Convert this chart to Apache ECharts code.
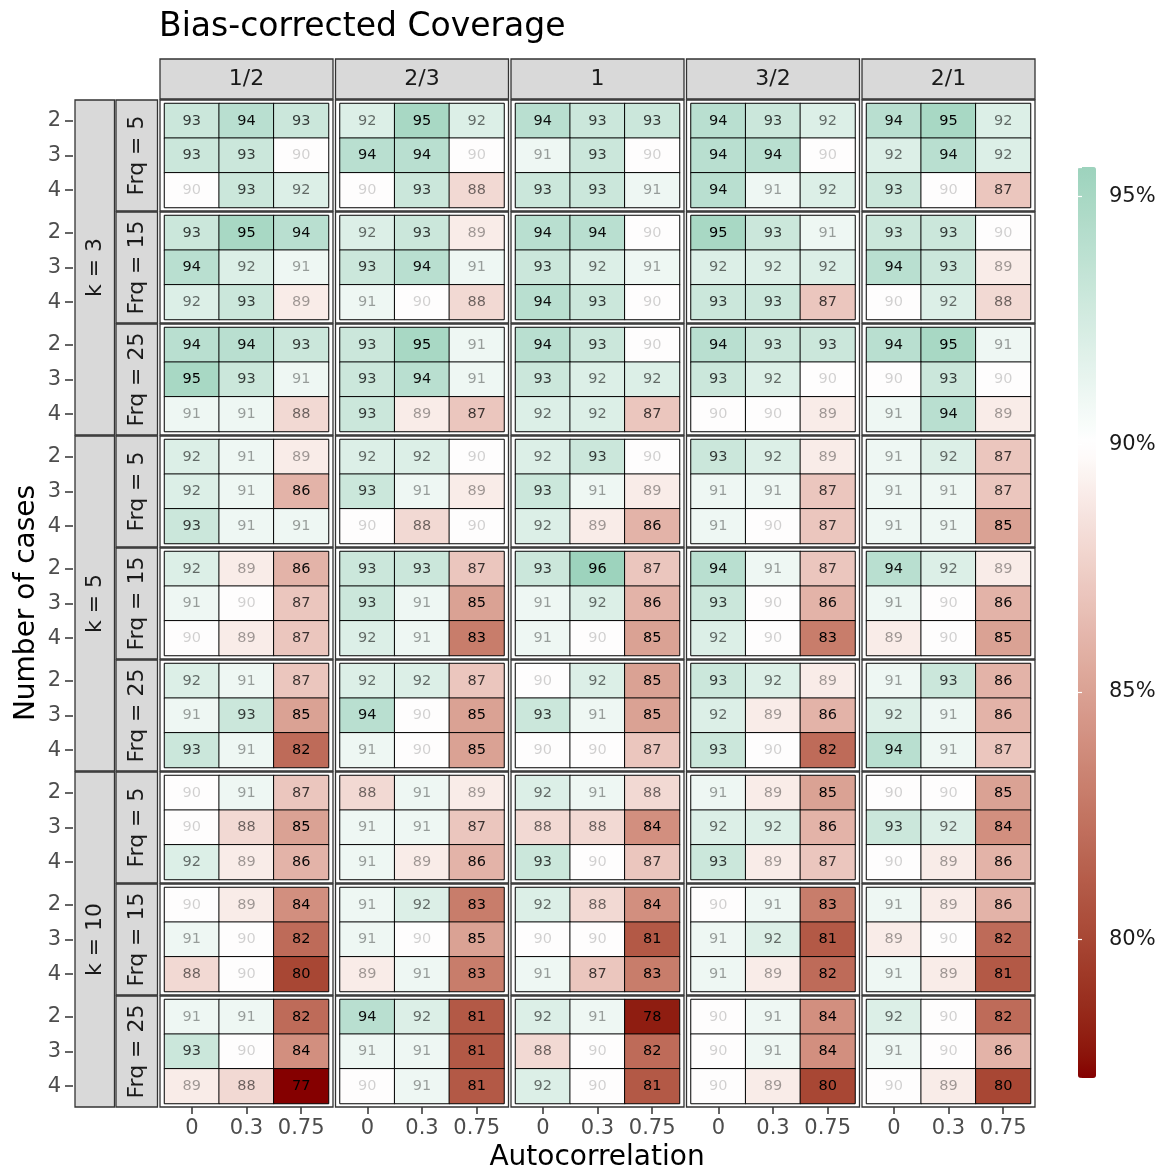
<!DOCTYPE html>
<html>
<head>
<meta charset="utf-8">
<script src="https://cdn.jsdelivr.net/npm/echarts@6/dist/echarts.min.js"></script>
<style>
  html, body { margin: 0; padding: 0; background: #fff; }
  #chart { width: 1162px; height: 1171px; }
</style>
</head>
<body>
<div id="chart"></div>
<script>
const ratios = ['1/2', '2/3', '1', '3/2', '2/1'];
const kValues = [3, 5, 10];
const frqValues = [5, 15, 25];
const nCases = ['2', '3', '4'];
const autocorr = ['0', '0.3', '0.75'];
const colorLimits = [77.2, 95.6];
const colorbarTicks = [80, 85, 90, 95];

// coverage (%) per k: 3 rows (n = 2,3,4) for each Frq (5, 15, 25),
// each row = 5 ratio panels x 3 autocorrelations
const coverageK3 = [
  [93,94,93, 92,95,92, 94,93,93, 94,93,92, 94,95,92],
  [93,93,90, 94,94,90, 91,93,90, 94,94,90, 92,94,92],
  [90,93,92, 90,93,88, 93,93,91, 94,91,92, 93,90,87],
  [93,95,94, 92,93,89, 94,94,90, 95,93,91, 93,93,90],
  [94,92,91, 93,94,91, 93,92,91, 92,92,92, 94,93,89],
  [92,93,89, 91,90,88, 94,93,90, 93,93,87, 90,92,88],
  [94,94,93, 93,95,91, 94,93,90, 94,93,93, 94,95,91],
  [95,93,91, 93,94,91, 93,92,92, 93,92,90, 90,93,90],
  [91,91,88, 93,89,87, 92,92,87, 90,90,89, 91,94,89]
];
const coverageK5 = [
  [92,91,89, 92,92,90, 92,93,90, 93,92,89, 91,92,87],
  [92,91,86, 93,91,89, 93,91,89, 91,91,87, 91,91,87],
  [93,91,91, 90,88,90, 92,89,86, 91,90,87, 91,91,85],
  [92,89,86, 93,93,87, 93,96,87, 94,91,87, 94,92,89],
  [91,90,87, 93,91,85, 91,92,86, 93,90,86, 91,90,86],
  [90,89,87, 92,91,83, 91,90,85, 92,90,83, 89,90,85],
  [92,91,87, 92,92,87, 90,92,85, 93,92,89, 91,93,86],
  [91,93,85, 94,90,85, 93,91,85, 92,89,86, 92,91,86],
  [93,91,82, 91,90,85, 90,90,87, 93,90,82, 94,91,87]
];
const coverageK10 = [
  [90,91,87, 88,91,89, 92,91,88, 91,89,85, 90,90,85],
  [90,88,85, 91,91,87, 88,88,84, 92,92,86, 93,92,84],
  [92,89,86, 91,89,86, 93,90,87, 93,89,87, 90,89,86],
  [90,89,84, 91,92,83, 92,88,84, 90,91,83, 91,89,86],
  [91,90,82, 91,90,85, 90,90,81, 91,92,81, 89,90,82],
  [88,90,80, 89,91,83, 91,87,83, 91,89,82, 91,89,81],
  [91,91,82, 94,92,81, 92,91,78, 90,91,84, 92,90,82],
  [93,90,84, 91,91,81, 88,90,82, 90,91,84, 91,90,86],
  [89,88,77, 90,91,81, 92,90,81, 90,89,80, 90,89,80]
];
const coverage = [coverageK3, coverageK5, coverageK10];

const FONT = 'DejaVu Sans';

// gradient2 style colours (Lab interpolation around midpoint 90)
function hexToLab(hex) {
  const c = [1, 3, 5].map(i => parseInt(hex.slice(i, i + 2), 16) / 255)
    .map(u => u <= 0.04045 ? u / 12.92 : Math.pow((u + 0.055) / 1.055, 2.4));
  const f = t => t > 0.008856 ? Math.cbrt(t) : 7.787 * t + 16 / 116;
  const x = f((0.4124 * c[0] + 0.3576 * c[1] + 0.1805 * c[2]) / 0.95047);
  const y = f(0.2126 * c[0] + 0.7152 * c[1] + 0.0722 * c[2]);
  const z = f((0.0193 * c[0] + 0.1192 * c[1] + 0.9505 * c[2]) / 1.08883);
  return [116 * y - 16, 500 * (x - y), 200 * (y - z)];
}
function labToHex(lab) {
  const fy = (lab[0] + 16) / 116, fx = fy + lab[1] / 500, fz = fy - lab[2] / 200;
  const inv = t => t > 0.206893 ? t * t * t : (t - 16 / 116) / 7.787;
  const x = inv(fx) * 0.95047, y = inv(fy), z = inv(fz) * 1.08883;
  const lin = [
    3.2406 * x - 1.5372 * y - 0.4986 * z,
    -0.9689 * x + 1.8758 * y + 0.0415 * z,
    0.0557 * x - 0.2040 * y + 1.0570 * z
  ];
  return '#' + lin.map(u => {
    u = Math.min(1, Math.max(0, u));
    u = u <= 0.0031308 ? 12.92 * u : 1.055 * Math.pow(u, 1 / 2.4) - 0.055;
    return Math.round(u * 255).toString(16).padStart(2, '0');
  }).join('');
}
const lowLab = hexToLab('#850000');
const highLab = [55, -50, 12];
const midVal = 90;
const spread = Math.max(midVal - colorLimits[0], colorLimits[1] - midVal);
function colorAt(v) {
  const t = Math.min(1, Math.abs(v - midVal) / spread);
  const end = v < midVal ? lowLab : highLab;
  return labToHex([100 + (end[0] - 100) * t, end[1] * t, end[2] * t]);
}
const rampColors = [];
for (let i = 0; i <= 60; i++) {
  rampColors.push(colorAt(colorLimits[0] + (colorLimits[1] - colorLimits[0]) * i / 60));
}

// layout
const panelX0 = 160, panelStepX = 175.5, panelW = 173;
const panelY0 = 100, panelStepY = 112, panelH = 111;
const insetX = 4.5, insetY = 3.5;

const grids = [], xAxes = [], yAxes = [], series = [], graphics = [];
let gi = 0;
for (let k = 0; k < kValues.length; k++) {
  for (let f = 0; f < frqValues.length; f++) {
    const row = k * 3 + f;
    const top = panelY0 + row * panelStepY;
    for (let r = 0; r < ratios.length; r++) {
      const left = panelX0 + r * panelStepX;
      const isBottom = row === 8;
      const isLeft = r === 0;
      grids.push({
        left: left + insetX, top: top + insetY,
        width: panelW - 2 * insetX, height: panelH - 2 * insetY
      });
      xAxes.push({
        type: 'category', gridIndex: gi, data: autocorr, offset: 3.5,
        axisLine: { show: false },
        axisTick: { show: isBottom, alignWithLabel: true, interval: 0, length: 7, lineStyle: { color: '#333', width: 1.5 } },
        axisLabel: { show: isBottom, interval: 0, color: '#4d4d4d', fontSize: 21, fontFamily: FONT, margin: 11 },
        splitLine: { show: false }
      });
      yAxes.push({
        type: 'category', gridIndex: gi, data: nCases, inverse: true,
        offset: left + insetX - 73,
        axisLine: { show: false },
        axisTick: { show: isLeft, alignWithLabel: true, interval: 0, length: 8, lineStyle: { color: '#333', width: 1.5 } },
        axisLabel: { show: isLeft, interval: 0, color: '#4d4d4d', fontSize: 21, fontFamily: FONT, margin: 12 },
        splitLine: { show: false }
      });
      const data = [];
      for (let n = 0; n < nCases.length; n++) {
        for (let a = 0; a < autocorr.length; a++) {
          const v = coverage[k][f * 3 + n][r * 3 + a];
          const alpha = Math.min(1, 0.18 + 0.19 * Math.abs(v - midVal));
          data.push({ value: [a, n, v], label: { color: 'rgba(0,0,0,' + alpha.toFixed(2) + ')' } });
        }
      }
      series.push({
        type: 'heatmap', xAxisIndex: gi, yAxisIndex: gi, data: data,
        itemStyle: { borderColor: '#000', borderWidth: 1 },
        label: { show: true, fontSize: 14.5, fontFamily: FONT, formatter: p => Math.round(p.value[2]) },
        emphasis: { disabled: true }
      });
      // panel frame
      graphics.push({
        type: 'rect', shape: { x: left, y: top, width: panelW, height: panelH },
        style: { fill: null, stroke: '#333', lineWidth: 1.3 }, silent: true
      });
      gi++;
    }
    // inner (Frq) strip
    graphics.push({
      type: 'rect', shape: { x: 116, y: top, width: 41.5, height: panelH },
      style: { fill: '#d9d9d9', stroke: '#333', lineWidth: 1.3 }, silent: true
    });
    graphics.push({
      type: 'text', x: 137, y: top + panelH / 2, rotation: Math.PI / 2,
      style: { text: 'Frq = ' + frqValues[f], fill: '#1a1a1a', fontSize: 22, fontFamily: FONT, align: 'center', verticalAlign: 'middle' },
      silent: true
    });
  }
  // outer (k) strip
  const kTop = panelY0 + k * 3 * panelStepY;
  const kH = 2 * panelStepY + panelH;
  graphics.push({
    type: 'rect', shape: { x: 75, y: kTop, width: 39.5, height: kH },
    style: { fill: '#d9d9d9', stroke: '#333', lineWidth: 1.3 }, silent: true
  });
  graphics.push({
    type: 'text', x: 95, y: kTop + kH / 2, rotation: Math.PI / 2,
    style: { text: 'k = ' + kValues[k], fill: '#1a1a1a', fontSize: 22, fontFamily: FONT, align: 'center', verticalAlign: 'middle' },
    silent: true
  });
}
// top strips
ratios.forEach((lab, r) => {
  const left = panelX0 + r * panelStepX;
  graphics.push({
    type: 'rect', shape: { x: left, y: 59, width: panelW, height: 40 },
    style: { fill: '#d9d9d9', stroke: '#333', lineWidth: 1.3 }, silent: true
  });
  graphics.push({
    type: 'text', x: left + panelW / 2, y: 79.5,
    style: { text: lab, fill: '#1a1a1a', fontSize: 22, fontFamily: FONT, align: 'center', verticalAlign: 'middle' },
    silent: true
  });
});
// axis titles
graphics.push({
  type: 'text', x: 27, y: 603, rotation: Math.PI / 2,
  style: { text: 'Number of cases', fill: '#000', fontSize: 28, fontFamily: FONT, align: 'center', verticalAlign: 'middle' },
  silent: true
});
graphics.push({
  type: 'text', x: 597, y: 1158,
  style: { text: 'Autocorrelation', fill: '#000', fontSize: 28, fontFamily: FONT, align: 'center', verticalAlign: 'middle' },
  silent: true
});

// colourbar axis
const barLeft = 1078, barTop = 167, barW = 18, barH = 911;
grids.push({ left: barLeft, top: barTop, width: barW, height: barH });
xAxes.push({ type: 'value', gridIndex: gi, show: false });
const barLabel = v => colorbarTicks.includes(Math.round(v * 1000) / 1000) ? v + '%' : '';
yAxes.push({
  type: 'value', gridIndex: gi, position: 'right', min: colorLimits[0], max: colorLimits[1],
  splitNumber: 4, z: 10,
  axisLine: { show: false },
  axisTick: { show: true, inside: true, length: 4, lineStyle: { color: '#fff', width: 1.2 } },
  axisLabel: { color: '#1a1a1a', fontSize: 21, fontFamily: FONT, margin: 13, formatter: barLabel, showMinLabel: false, showMaxLabel: false },
  splitLine: { show: false }
});
yAxes.push({
  type: 'value', gridIndex: gi, position: 'left', min: colorLimits[0], max: colorLimits[1],
  splitNumber: 4, z: 10,
  axisLine: { show: false },
  axisTick: { show: true, inside: true, length: 4, lineStyle: { color: '#fff', width: 1.2 } },
  axisLabel: { show: false },
  splitLine: { show: false }
});

const chart = echarts.init(document.getElementById('chart'), null, { renderer: 'canvas' });
chart.setOption({
  animation: false,
  backgroundColor: '#fff',
  title: {
    text: 'Bias-corrected Coverage', left: 159, top: 11, padding: 0,
    textStyle: { fontSize: 33, fontWeight: 'normal', color: '#000', fontFamily: FONT }
  },
  grid: grids,
  xAxis: xAxes,
  yAxis: yAxes,
  visualMap: {
    type: 'continuous', min: colorLimits[0], max: colorLimits[1],
    seriesIndex: series.map((s, i) => i),
    calculable: false, left: barLeft, top: barTop, itemWidth: barW, itemHeight: barH,
    padding: 0, inRange: { color: rampColors }, textStyle: { color: 'transparent' }
  },
  graphic: graphics,
  series: series
});
</script>
</body>
</html>
